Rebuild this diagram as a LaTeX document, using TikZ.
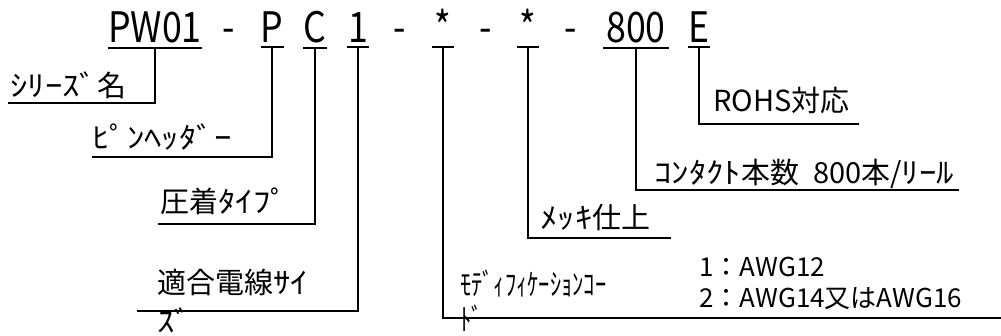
\documentclass[tikz,border=0pt]{standalone}
\usepackage{fontspec}
\setmainfont{Noto Sans CJK JP}
\newfontfamily\codefont[FakeStretch=0.85]{Noto Sans CJK JP}
\newfontfamily\hw[FakeStretch=1.2]{Noto Sans CJK JP}
\newfontfamily\hwn[FakeStretch=0.75]{Noto Sans CJK JP}
\usetikzlibrary{calc}

\tikzset{
  code/.style={font=\codefont\fontsize{42}{42}\selectfont, inner xsep=0pt, inner ysep=4pt,
    minimum width=22pt, anchor=base},
  lbl/.style={font=\fontsize{29}{39}\selectfont, inner sep=0pt, anchor=base west, align=left},
  ln/.style={line width=2pt},
}

\begin{document}
\begin{tikzpicture}[x=1pt,y=-1pt]
\useasboundingbox (0,0) rectangle (1001,336);
% part number
\node[code, minimum width=86pt] (pw) at (155,43) {PW01};
\node[code] (d1) at (229,43) {-};
\node[code] (pin) at (272,43) {P};
\node[code] (crimp) at (315,43) {C};
\node[code] (wire) at (358,43) {1};
\node[code] (d2) at (400,43) {-};
\node[code] (mod) at (443,43) {*};
\node[code] (d3) at (486,43) {-};
\node[code] (plate) at (528,43) {*};
\node[code] (d4) at (571,43) {-};
\node[code, minimum width=65pt] (qty) at (636,43) {800};
\node[code] (rohs) at (699,43) {E};
\foreach \n in {pw,pin,crimp,wire,mod,plate,qty,rohs}
  \draw[ln] (\n.south west) -- (\n.south east);

% labels (base = last line)
\node[lbl] (serl) at (10,97) {{\hw ｼﾘｰｽﾞ}名};
\node[lbl] (pinl) at (92,149) {\hw ﾋﾟﾝﾍｯﾀﾞｰ};
\node[lbl] (crimpl) at (160,213) {圧着{\hw ﾀｲﾌﾟ}};
\node[lbl] (wirel) at (157,333) {適合電線{\hw ｻｲ}\\{\hw ｽﾞ}};
\node[lbl, font=\hwn\fontsize{30}{35}\selectfont] (modl) at (460,331) {ﾓﾃﾞｨﾌｨｹｰｼｮﾝｺｰ\\ﾄﾞ};
\node[lbl, font=\fontsize{26}{31}\selectfont] (awgl) at (699,308) {1：AWG12\\2：AWG14又はAWG16};
\node[lbl] (platel) at (540,229) {{\hw ﾒｯｷ}仕上};
\node[lbl] (qtyl) at (654,184) {{\hw ｺﾝﾀｸﾄ}本数\hspace{14pt}800本/{\hw ﾘｰﾙ}};
\node[lbl] (rohsl) at (713,112) {ROHS対応};

% leader ends
\coordinate (serEnd) at (8,103);
\coordinate (pinEnd) at (92,157);
\coordinate (crimpEnd) at (158,224);
\coordinate (wireEnd) at (137,311);
\coordinate (modEnd) at (1001,318);
\coordinate (plateEnd) at (671,238);
\coordinate (qtyEnd) at (959,190);
\coordinate (rohsEnd) at (859,124);

% leaders
\draw[ln] (pw.south) |- (serEnd);
\draw[ln] (pin.south) |- (pinEnd);
\draw[ln] (crimp.south) |- (crimpEnd);
\draw[ln] (wire.south) |- (wireEnd);
\draw[ln] (mod.south) |- (modEnd);
\draw[ln] (plate.south) |- (plateEnd);
\draw[ln] (qty.south) |- (qtyEnd);
\draw[ln] (rohs.south) |- (rohsEnd);
\end{tikzpicture}
\end{document}
